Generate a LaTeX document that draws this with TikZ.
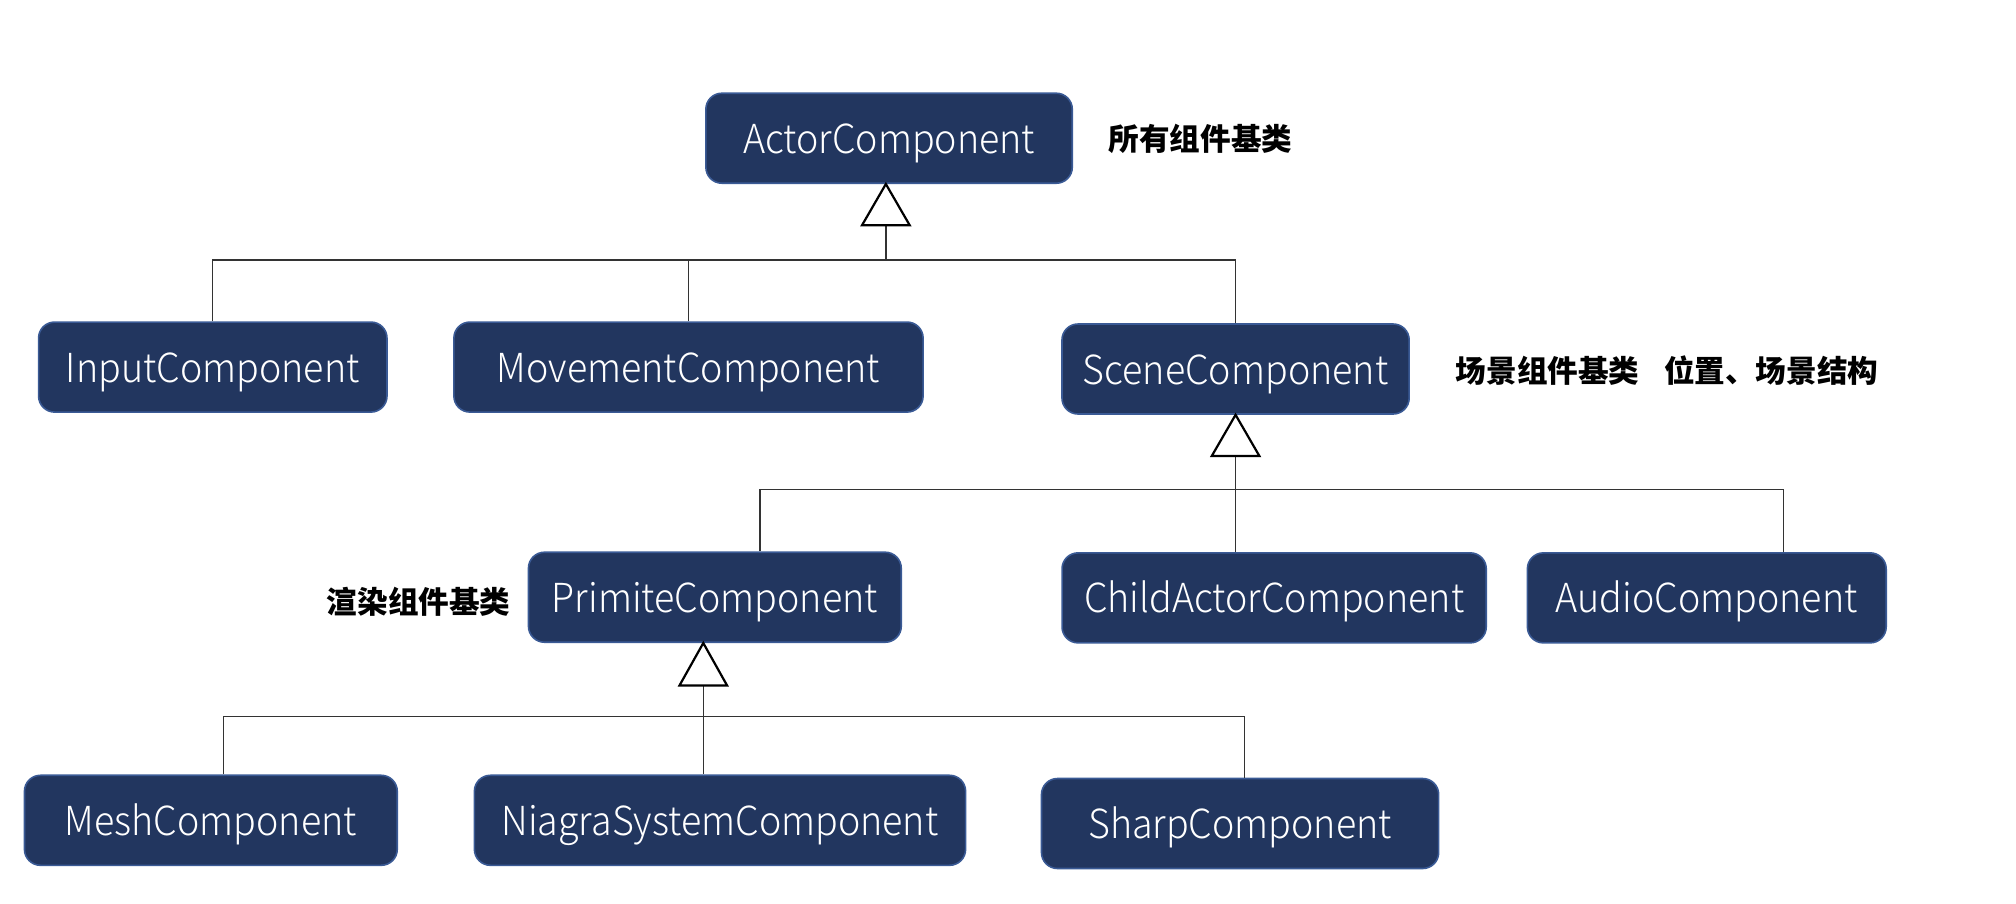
\documentclass[tikz,border=0pt]{standalone}
\usepackage{fontspec}
\usepackage{graphicx}
\setmainfont{Noto Sans CJK SC}
\newfontfamily\cjk{Noto Sans CJK SC Black}
\newfontfamily\lightfont{Noto Sans CJK SC Light}
\usetikzlibrary{calc}
\definecolor{boxfill}{HTML}{22365F}
\definecolor{boxline}{HTML}{3A5A95}
\newcommand\sqz[1]{\scalebox{0.94}[1]{#1}}
\begin{document}
\begin{tikzpicture}[x=0.642857pt,y=-0.642857pt,
  comp/.style={draw=boxline, line width=0.8pt, fill=boxfill, rounded corners=8pt,
    text=white, font=\lightfont\fontsize{20}{24}\selectfont, inner sep=0pt,
    text height=17pt, text depth=2pt, minimum height=45pt},
  note/.style={anchor=west, inner sep=0pt, font=\cjk\fontsize{15.3}{18}\selectfont},
  conn/.style={draw=black!80, line width=0.7pt},
  tri/.style={draw=black, line width=1.1pt, fill=white, line join=miter}]
\useasboundingbox (0,0) rectangle (1568,703);
% nodes
\node[comp, minimum width=183.2pt] (actor) at (691.5,107.5) {\sqz{ActorComponent}};
\node[comp, minimum width=174.2pt] (input) at (165.5,285.5) {\sqz{InputComponent}};
\node[comp, minimum width=234.6pt] (move) at (535.5,285.5) {\sqz{MovementComponent}};
\node[comp, minimum width=173.6pt] (scene) at (961,287) {\sqz{SceneComponent}};
\node[comp, minimum width=186.4pt] (prim) at (556,464.5) {\sqz{PrimiteComponent}};
\node[comp, minimum width=212.1pt] (child) at (991,465) {\sqz{ChildActorComponent}};
\node[comp, minimum width=179.4pt] (audio) at (1327.5,465) {\sqz{AudioComponent}};
\node[comp, minimum width=186.4pt] (mesh) at (164,638) {\sqz{MeshComponent}};
\node[comp, minimum width=245.6pt] (niagra) at (560,638) {\sqz{NiagraSystemComponent}};
\node[comp, minimum width=198.6pt] (sharp) at (964.5,640.5) {\sqz{SharpComponent}};
% notes
\node[note] (n1) at (862,108) {所有组件基类};
\node[note] (n2) at (1132,288) {场景组件基类};
\node[note] (n3) at (1294,288) {位置、场景结构};
\node[note] (n4) at (254,468) {渲染组件基类};
% ActorComponent hierarchy
\coordinate (a1) at ($(actor.south)+(-2.5,0)$);
\coordinate (t1) at ($(a1)+(0,32)$);
\coordinate (b1) at ($(t1)+(0,27)$);
\draw[conn] (t1) -- (b1);
\draw[conn] (input.north) |- (b1);
\draw[conn] (move.north) |- (b1);
\draw[conn] (scene.north) |- (b1);
\draw[tri] (a1) -- ++(-18.5,32) -- ++(37,0) -- cycle;
% SceneComponent hierarchy
\coordinate (a2) at (scene.south);
\coordinate (t2) at ($(a2)+(0,32)$);
\coordinate (b2) at ($(t2)+(0,26)$);
\draw[conn] (t2) -- (t2 |- child.north);
\draw[conn] ($(prim.north)+(35,0)$) |- (b2);
\draw[conn] ($(audio.north)+(59.5,0)$) |- (b2);
\draw[tri] (a2) -- ++(-18.5,32) -- ++(37,0) -- cycle;
% PrimiteComponent hierarchy
\coordinate (a3) at ($(prim.south)+(-9,0)$);
\coordinate (t3) at ($(a3)+(0,33)$);
\coordinate (b3) at ($(t3)+(0,24)$);
\draw[conn] (t3) -- (t3 |- niagra.north);
\draw[conn] ($(mesh.north)+(10,0)$) |- (b3);
\draw[conn] ($(sharp.north)+(3.5,0)$) |- (b3);
\draw[tri] (a3) -- ++(-18.5,33) -- ++(37,0) -- cycle;
\end{tikzpicture}
\end{document}
